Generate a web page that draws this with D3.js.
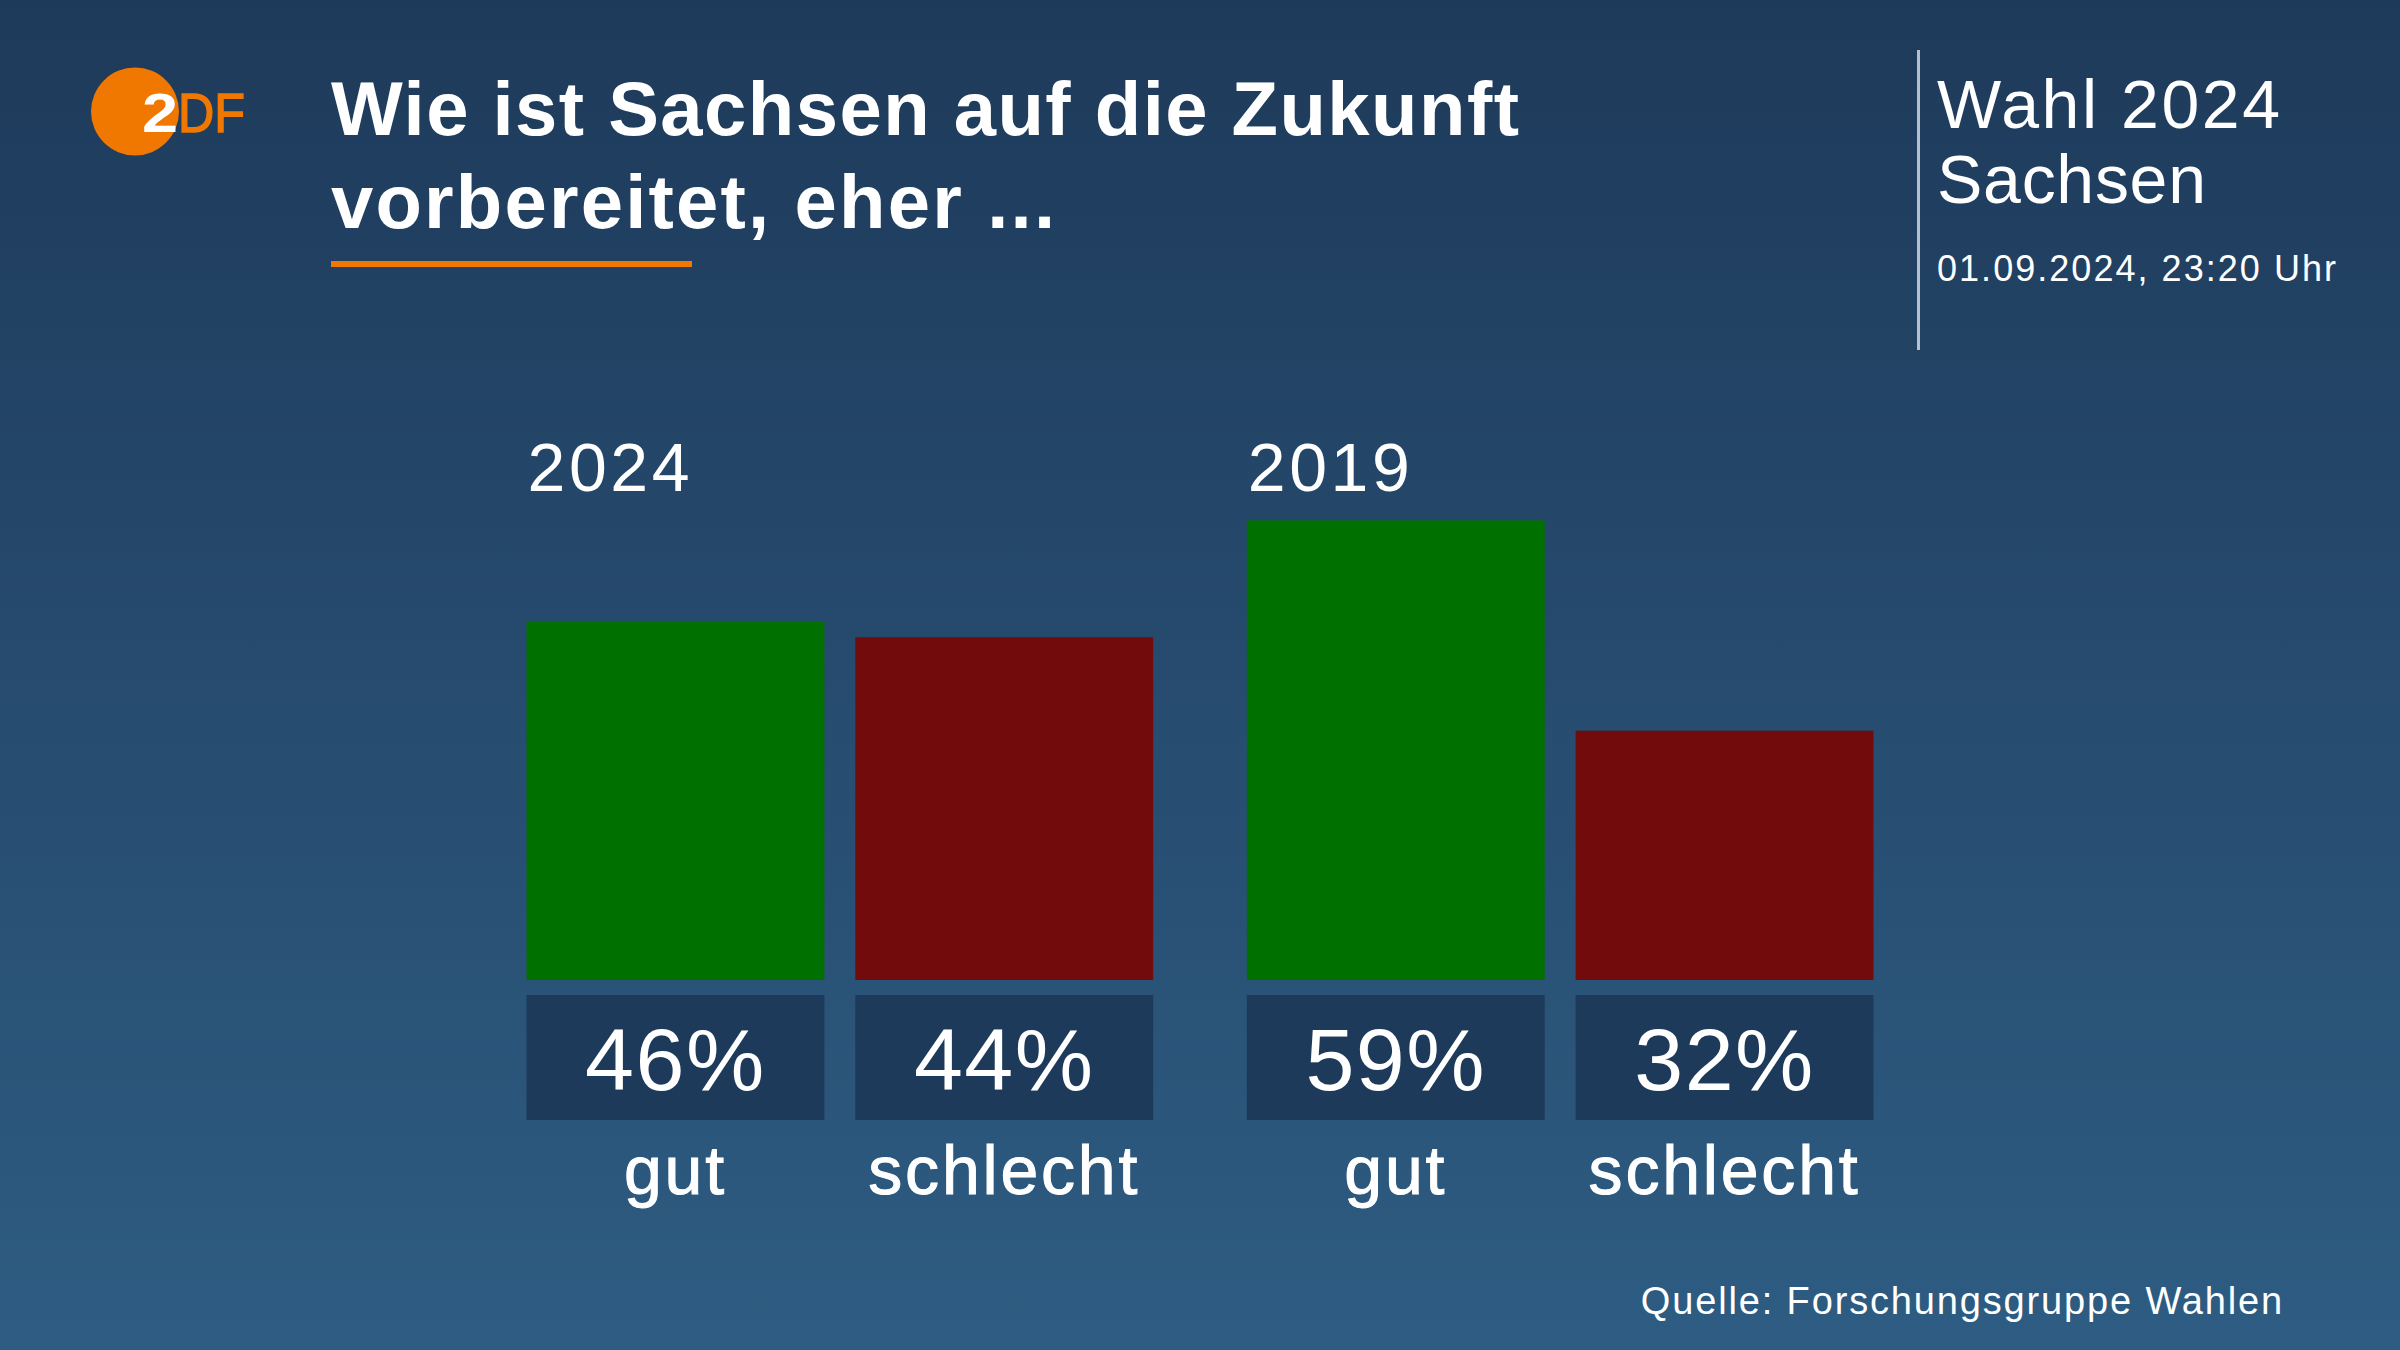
<!DOCTYPE html>
<html>
<head>
<meta charset="utf-8">
<script src="https://cdn.jsdelivr.net/npm/d3@7"></script>
<style>
html, body { margin: 0; padding: 0; background: #1e3a5a; }
svg { display: block; }
text { font-family: "Liberation Sans", sans-serif; fill: #fff; }
</style>
</head>
<body>
<div id="chart"></div>
<script>
var years = ["2024", "2019"];
var answers = ["gut", "schlecht"];
var values2024 = [46, 44];
var values2019 = [59, 32];
var titleLines = ["Wie ist Sachsen auf die Zukunft", "vorbereitet, eher ..."];
var sideLines = ["Wahl 2024", "Sachsen"];
var dateLabel = "01.09.2024, 23:20 Uhr";
var sourceLabel = "Quelle: Forschungsgruppe Wahlen";

var width = 2400, height = 1350;

var svg = d3.select("#chart").append("svg")
    .attr("width", width)
    .attr("height", height);

// background
var grad = svg.append("defs").append("linearGradient")
    .attr("id", "bg").attr("x1", 0).attr("y1", 0).attr("x2", 0).attr("y2", 1);
grad.append("stop").attr("offset", "0%").attr("stop-color", "#1e3a5a");
grad.append("stop").attr("offset", "100%").attr("stop-color", "#2e5c82");
svg.append("rect").attr("width", width).attr("height", height).attr("fill", "url(#bg)");

// logo
svg.append("circle").attr("cx", 135).attr("cy", 111.5).attr("r", 44).attr("fill", "#f07800");
svg.append("text")
    .attr("x", 142).attr("y", 132)
    .attr("textLength", 36).attr("lengthAdjust", "spacingAndGlyphs")
    .style("font-size", "56px").style("font-weight", "bold")
    .text("2");
svg.append("text")
    .attr("x", 178).attr("y", 132)
    .attr("textLength", 67).attr("lengthAdjust", "spacingAndGlyphs")
    .style("font-size", "56px").style("fill", "#f07800")
    .style("stroke", "#f07800").style("stroke-width", "1.5px")
    .text("DF");

// title
var titleWidths = [1188, 724];
svg.selectAll(".title").data(titleLines).enter().append("text")
    .attr("class", "title")
    .attr("x", 331)
    .attr("y", function (d, i) { return 135 + i * 93; })
    .attr("textLength", function (d, i) { return titleWidths[i]; })
    .style("font-size", "76px")
    .style("font-weight", "bold")
    .text(function (d) { return d; });
svg.append("rect").attr("x", 331).attr("y", 261).attr("width", 361).attr("height", 6).attr("fill", "#f07800");

// right header
var sideWidths = [343, 269];
svg.append("rect").attr("x", 1917).attr("y", 50).attr("width", 3).attr("height", 300).attr("fill", "#b5c0cc");
svg.selectAll(".side").data(sideLines).enter().append("text")
    .attr("class", "side")
    .attr("x", 1937)
    .attr("y", function (d, i) { return 128 + i * 75; })
    .attr("textLength", function (d, i) { return sideWidths[i]; })
    .style("font-size", "68px")
    .text(function (d) { return d; });
svg.append("text").attr("x", 1937).attr("y", 281)
    .attr("textLength", 399)
    .style("font-size", "36px")
    .text(dateLabel);

// scales
var x0 = d3.scaleBand().domain(years).range([526.5, 1873.5]).paddingInner(0.13);
var x1 = d3.scaleBand().domain(answers).range([0, x0.bandwidth()]).paddingInner(0.094);
var y = d3.scaleLinear().domain([0, 100]).range([980, 201]);
var color = d3.scaleOrdinal().domain(answers).range(["#007000", "#720c0c"]);

var rows = [values2024, values2019];
var groups = svg.selectAll(".year").data(years).enter().append("g")
    .attr("class", "year")
    .attr("transform", function (d) { return "translate(" + x0(d) + ",0)"; });

groups.append("text")
    .attr("x", 1).attr("y", 491)
    .attr("textLength", 162)
    .style("font-size", "68px")
    .text(function (d) { return d; });

var cells = groups.selectAll(".cell")
    .data(function (d, i) {
        return answers.map(function (a, j) { return { answer: a, value: rows[i][j] }; });
    })
    .enter().append("g").attr("class", "cell")
    .attr("transform", function (d) { return "translate(" + x1(d.answer) + ",0)"; });

cells.append("rect")
    .attr("y", function (d) { return y(d.value); })
    .attr("width", x1.bandwidth())
    .attr("height", function (d) { return y(0) - y(d.value); })
    .attr("fill", function (d) { return color(d.answer); });

cells.append("rect")
    .attr("y", 995)
    .attr("width", x1.bandwidth())
    .attr("height", 125)
    .attr("fill", "#1e3a5a");

cells.append("text")
    .attr("x", x1.bandwidth() / 2).attr("y", 1090)
    .attr("text-anchor", "middle")
    .style("font-size", "88px")
    .style("letter-spacing", "1.5px")
    .text(function (d) { return d.value + "%"; });

cells.append("text")
    .attr("x", x1.bandwidth() / 2).attr("y", 1194)
    .attr("text-anchor", "middle")
    .style("font-size", "68px")
    .style("stroke", "#fff").style("stroke-width", "1px")
    .style("letter-spacing", "2.8px")
    .text(function (d) { return d.answer; });

// source
svg.append("text").attr("x", 2284).attr("y", 1314)
    .attr("text-anchor", "end")
    .style("font-size", "38px")
    .style("letter-spacing", "1.85px")
    .text(sourceLabel);
</script>
</body>
</html>
